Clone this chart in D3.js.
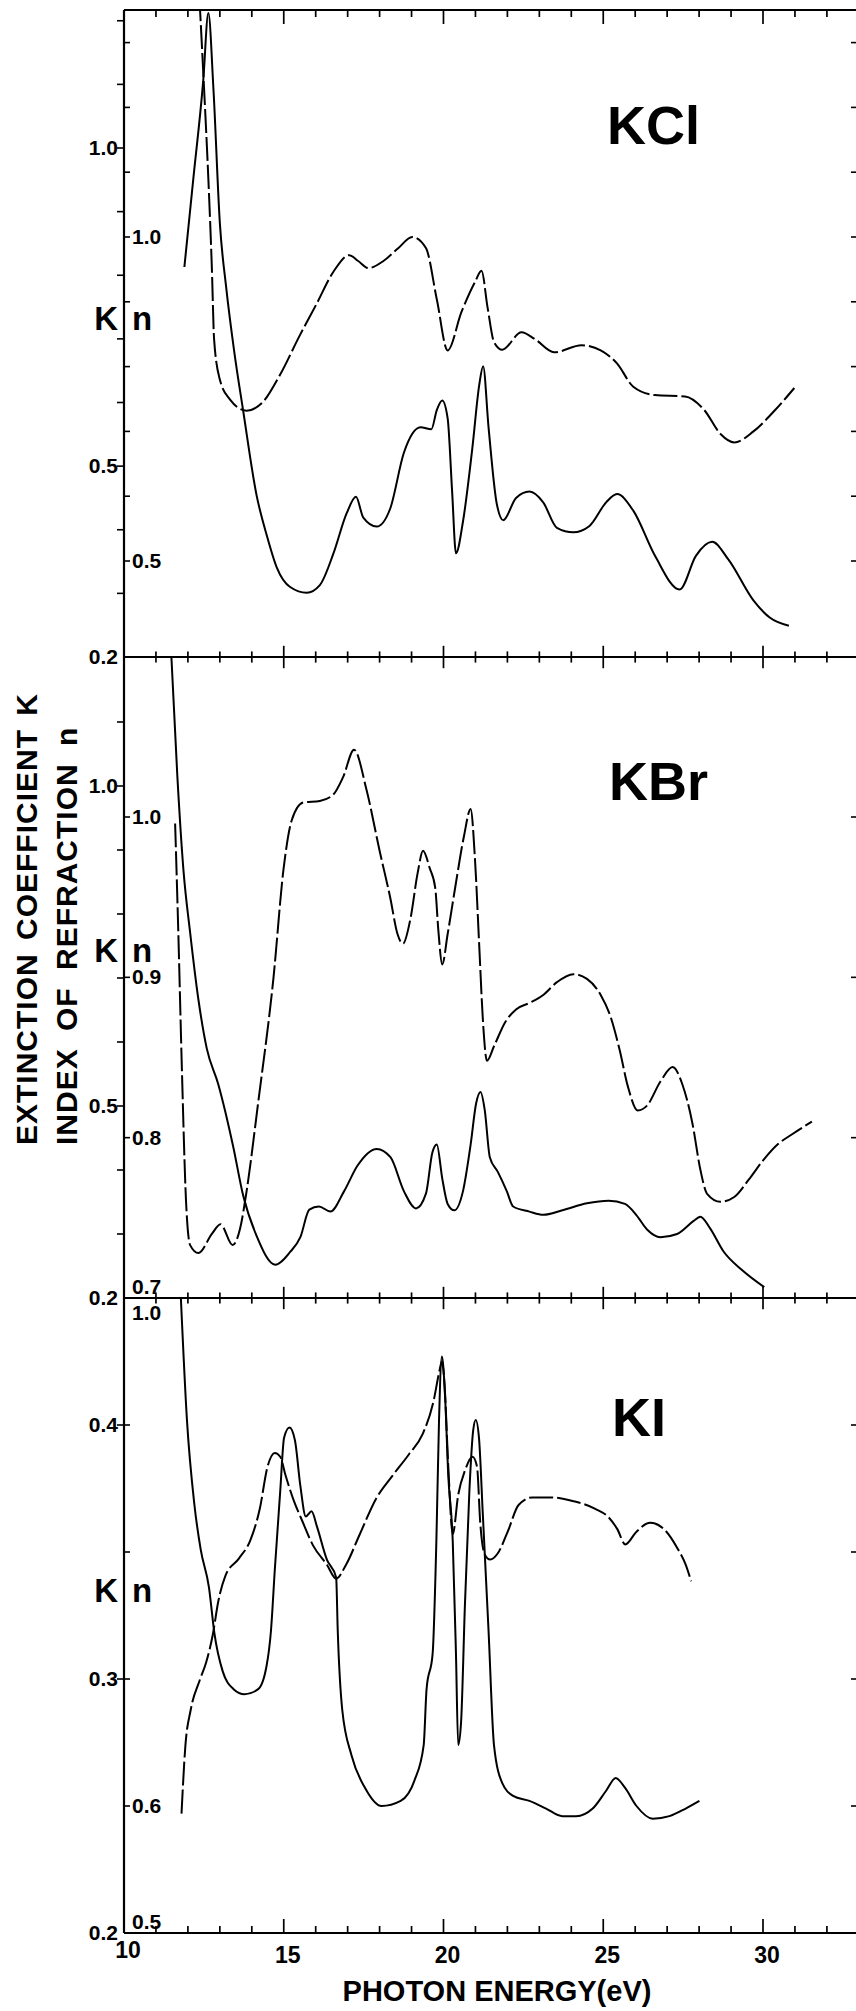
<!DOCTYPE html>
<html><head><meta charset="utf-8">
<script src="https://cdn.jsdelivr.net/npm/d3@7"></script>
<style>
body{margin:0;background:#fff}
svg{display:block}
text{fill:#000}
</style>
</head><body>
<script>
// ---------- DATA ----------
const panelNames = ["KCl", "KBr", "KI"];
const energyMajorTicks = [10, 15, 20, 25, 30];
const energyMinorTicks = [11, 12, 13, 14, 16, 17, 18, 19, 21, 22, 23, 24, 26, 27, 28, 29, 31, 32, 33];

// KCl  [photon energy eV, value]
const kclK = [[11.89,0.813],[12.17,0.952],[12.48,1.106],[12.64,1.212],[12.80,1.092],[13.00,0.882],[13.20,0.780],[13.45,0.680],[13.73,0.587],[14.15,0.454],[14.47,0.391],[14.78,0.341],[15.20,0.310],[15.72,0.301],[16.13,0.313],[16.55,0.362],[16.97,0.426],[17.26,0.452],[17.49,0.419],[17.91,0.405],[18.33,0.433],[18.76,0.521],[19.28,0.561],[19.62,0.558],[19.79,0.588],[19.96,0.603],[20.13,0.575],[20.27,0.460],[20.39,0.363],[20.61,0.413],[20.90,0.527],[21.12,0.628],[21.24,0.657],[21.41,0.561],[21.67,0.440],[21.87,0.415],[22.27,0.450],[22.69,0.460],[23.12,0.443],[23.55,0.403],[24.06,0.396],[24.57,0.406],[25.09,0.443],[25.43,0.456],[25.94,0.430],[26.62,0.359],[27.39,0.306],[27.90,0.359],[28.41,0.381],[28.92,0.353],[29.70,0.289],[30.21,0.262],[30.81,0.249]];
const kclN = [[12.36,1.37],[12.50,1.235],[12.64,1.090],[12.75,0.952],[12.82,0.842],[13.00,0.780],[13.32,0.749],[13.84,0.732],[14.36,0.746],[14.88,0.787],[15.51,0.849],[16.03,0.897],[16.55,0.946],[17.05,0.972],[17.33,0.963],[17.65,0.952],[18.12,0.963],[18.59,0.983],[19.02,1.000],[19.45,0.983],[19.79,0.904],[20.13,0.825],[20.56,0.884],[20.99,0.931],[21.19,0.948],[21.38,0.891],[21.58,0.838],[21.84,0.826],[22.44,0.853],[22.87,0.842],[23.46,0.822],[24.32,0.833],[24.92,0.825],[25.43,0.805],[25.94,0.769],[26.62,0.756],[27.56,0.754],[28.16,0.733],[28.67,0.696],[29.10,0.683],[29.70,0.700],[30.38,0.733],[30.98,0.767]];

// KBr
const kbrK = [[11.47,1.215],[11.67,1.015],[11.86,0.869],[12.07,0.771],[12.33,0.666],[12.59,0.590],[12.95,0.534],[13.42,0.436],[13.73,0.360],[14.15,0.297],[14.73,0.252],[15.20,0.272],[15.52,0.295],[15.80,0.338],[16.10,0.343],[16.46,0.335],[16.89,0.367],[17.31,0.407],[17.91,0.433],[18.34,0.420],[18.76,0.367],[19.14,0.340],[19.45,0.363],[19.65,0.427],[19.79,0.440],[19.96,0.387],[20.13,0.347],[20.34,0.337],[20.61,0.367],[20.85,0.440],[21.02,0.504],[21.16,0.522],[21.29,0.494],[21.45,0.420],[21.70,0.397],[21.98,0.367],[22.18,0.343],[22.69,0.335],[23.12,0.330],[23.72,0.337],[24.49,0.348],[25.17,0.352],[25.68,0.347],[26.03,0.330],[26.37,0.307],[26.79,0.295],[27.31,0.300],[27.82,0.320],[28.04,0.327],[28.33,0.310],[28.76,0.273],[29.36,0.243],[30.04,0.217]];
const kbrN = [[11.60,0.996],[11.70,0.928],[11.81,0.844],[11.94,0.761],[12.07,0.733],[12.33,0.728],[12.75,0.740],[13.02,0.746],[13.40,0.733],[13.63,0.743],[13.84,0.767],[14.20,0.822],[14.68,0.900],[14.99,0.967],[15.25,0.998],[15.61,1.009],[16.13,1.010],[16.55,1.014],[16.86,1.025],[17.20,1.042],[17.59,1.017],[18.01,0.978],[18.33,0.950],[18.56,0.927],[18.73,0.921],[18.97,0.937],[19.19,0.965],[19.36,0.979],[19.57,0.968],[19.74,0.956],[19.84,0.929],[19.96,0.908],[20.13,0.927],[20.39,0.959],[20.64,0.988],[20.85,1.005],[20.99,0.972],[21.12,0.919],[21.24,0.871],[21.36,0.848],[21.58,0.857],[21.93,0.872],[22.27,0.880],[22.69,0.884],[23.12,0.889],[23.55,0.897],[24.06,0.902],[24.49,0.899],[24.92,0.889],[25.22,0.876],[25.51,0.855],[25.77,0.832],[26.08,0.817],[26.37,0.820],[26.79,0.835],[27.17,0.844],[27.48,0.833],[27.79,0.809],[28.04,0.780],[28.25,0.765],[28.67,0.760],[29.10,0.763],[29.56,0.774],[30.01,0.786],[30.47,0.796],[30.90,0.802],[31.53,0.810]];

// KI
const kiK = [[11.78,0.450],[11.97,0.402],[12.20,0.369],[12.40,0.351],[12.66,0.336],[12.83,0.318],[13.09,0.303],[13.43,0.296],[13.77,0.294],[14.20,0.296],[14.46,0.305],[14.60,0.319],[14.72,0.343],[14.89,0.374],[15.01,0.395],[15.18,0.399],[15.35,0.394],[15.52,0.376],[15.69,0.364],[15.87,0.366],[16.04,0.360],[16.35,0.347],[16.64,0.340],[16.69,0.319],[16.83,0.288],[17.12,0.270],[17.55,0.257],[18.06,0.250],[18.66,0.252],[19.09,0.260],[19.38,0.274],[19.47,0.296],[19.66,0.310],[19.78,0.356],[19.86,0.402],[19.95,0.427],[20.05,0.411],[20.15,0.380],[20.29,0.354],[20.39,0.310],[20.46,0.274],[20.55,0.283],[20.67,0.329],[20.81,0.374],[20.93,0.398],[21.01,0.402],[21.11,0.395],[21.23,0.365],[21.41,0.319],[21.58,0.274],[21.84,0.259],[22.18,0.254],[22.69,0.252],[23.21,0.249],[23.72,0.246],[24.15,0.246],[24.67,0.249],[25.09,0.256],[25.39,0.261],[25.69,0.257],[26.04,0.250],[26.55,0.245],[27.07,0.246],[27.58,0.249],[28.01,0.252]];
const kiN = [[11.80,0.594],[11.92,0.647],[12.09,0.676],[12.37,0.699],[12.57,0.713],[12.78,0.735],[12.95,0.761],[13.17,0.781],[13.60,0.795],[13.95,0.809],[14.25,0.834],[14.49,0.867],[14.72,0.878],[14.89,0.875],[15.06,0.860],[15.32,0.840],[15.57,0.825],[15.92,0.805],[16.35,0.790],[16.64,0.779],[16.95,0.790],[17.38,0.814],[17.89,0.842],[18.40,0.860],[18.92,0.877],[19.35,0.893],[19.69,0.919],[19.86,0.941],[19.95,0.950],[20.03,0.933],[20.15,0.867],[20.29,0.814],[20.46,0.845],[20.67,0.864],[20.91,0.875],[21.05,0.867],[21.15,0.823],[21.29,0.798],[21.46,0.794],[21.70,0.799],[22.01,0.816],[22.35,0.837],[22.78,0.843],[23.38,0.843],[24.07,0.840],[24.75,0.834],[25.18,0.827],[25.44,0.818],[25.69,0.806],[26.04,0.816],[26.47,0.823],[26.90,0.818],[27.32,0.803],[27.58,0.790],[27.75,0.777]];

// axis tick values
const kclKTicks = [0.3,0.4,0.5,0.6,0.7,0.8,0.9,1.0,1.1,1.2];
const kclNTicks = [0.5,0.6,0.7,0.8,0.9,1.0,1.1,1.2,1.3];
const kclKLabels = [0.2,0.5,1.0];
const kclNLabels = [0.5,1.0];
const kbrKTicks = [0.3,0.4,0.5,0.6,0.7,0.8,0.9,1.0,1.1];
const kbrNTicks = [0.8,0.9,1.0];
const kbrKLabels = [0.2,0.5,1.0];
const kbrNLabels = [0.8,0.9,1.0];
const kiKTicks = [0.3,0.4];
const kiNTicks = [0.6,0.7,0.8,0.9];
const kiKLabels = [0.2,0.3,0.4];
const kiNLabels = [0.6];

// ---------- LAYOUT ----------
const W = 856, H = 2011;
const X0 = 124, XR = 858;
const FONT = "'Liberation Sans Narrow','Liberation Sans',Arial,sans-serif";
const FONTW = "'Liberation Sans',Arial,sans-serif";
const fmt = d3.format(".1f");

const svg = d3.select("body").append("svg").attr("width", W).attr("height", H);
svg.append("rect").attr("width", W).attr("height", H).attr("fill", "#fff");

const x = d3.scaleLinear().domain([10, 30]).range([X0, 763]);

const panels = [
  {name: panelNames[0], top: 10, bottom: 657,
   k: d3.scaleLinear().domain([0.2, 1.0]).range([657, 148]),
   n: d3.scaleLinear().domain([0.5, 1.0]).range([561, 237]),
   kData: kclK, nData: kclN, kTicks: kclKTicks, nTicks: kclNTicks,
   kLabels: kclKLabels, nLabels: kclNLabels, titleX: 607, titleY: 144, knY: 330},
  {name: panelNames[1], top: 657, bottom: 1298,
   k: d3.scaleLinear().domain([0.2, 1.0]).range([1298, 786]),
   n: d3.scaleLinear().domain([0.7, 1.0]).range([1298, 817]),
   kData: kbrK, nData: kbrN, kTicks: kbrKTicks, nTicks: kbrNTicks,
   kLabels: kbrKLabels, nLabels: kbrNLabels, titleX: 609, titleY: 800, knY: 962},
  {name: panelNames[2], top: 1298, bottom: 1933,
   k: d3.scaleLinear().domain([0.2, 0.4]).range([1933, 1425]),
   n: d3.scaleLinear().domain([0.5, 1.0]).range([1933, 1298]),
   kData: kiK, nData: kiN, kTicks: kiKTicks, nTicks: kiNTicks,
   kLabels: kiKLabels, nLabels: kiNLabels, titleX: 612, titleY: 1436, knY: 1602}
];

const defs = svg.append("defs");

panels.forEach((p, i) => {
  const g = svg.append("g");
  defs.append("clipPath").attr("id", "clip" + i)
    .append("rect").attr("x", X0).attr("y", p.top).attr("width", XR - X0).attr("height", p.bottom - p.top);

  const lineK = d3.line().x(d => x(d[0])).y(d => p.k(d[1])).curve(d3.curveMonotoneX);
  const lineN = d3.line().x(d => x(d[0])).y(d => p.n(d[1])).curve(d3.curveMonotoneX);
  const cg = g.append("g").attr("clip-path", `url(#clip${i})`);
  cg.append("path").attr("d", lineK(p.kData)).attr("fill", "none")
    .attr("stroke", "#000").attr("stroke-width", 2).attr("stroke-linejoin", "round");
  cg.append("path").attr("d", lineN(p.nData)).attr("fill", "none")
    .attr("stroke", "#000").attr("stroke-width", 2).attr("stroke-dasharray", "24,4")
    .attr("stroke-linejoin", "round");

  g.selectAll(".kt").data(p.kTicks).enter().append("line")
    .attr("x1", X0 - 7).attr("x2", X0).attr("y1", d => p.k(d)).attr("y2", d => p.k(d))
    .attr("stroke", "#000").attr("stroke-width", 1.6);
  g.selectAll(".nt").data(p.nTicks).enter().append("line")
    .attr("x1", X0).attr("x2", X0 + 6).attr("y1", d => p.n(d)).attr("y2", d => p.n(d))
    .attr("stroke", "#000").attr("stroke-width", 1.6);
  g.selectAll(".rt").data(p.nTicks).enter().append("line")
    .attr("x1", XR - 7).attr("x2", XR).attr("y1", d => p.n(d)).attr("y2", d => p.n(d))
    .attr("stroke", "#000").attr("stroke-width", 1.6);

  g.selectAll(".kl").data(p.kLabels).enter().append("text")
    .attr("x", X0 - 6).attr("y", d => p.k(d) + 7)
    .attr("text-anchor", "end").attr("font-family", FONT).attr("font-weight", "bold").attr("font-size", 21)
    .text(d => fmt(d));
  g.selectAll(".nl").data(p.nLabels).enter().append("text")
    .attr("x", X0 + 8).attr("y", d => p.n(d) + 7)
    .attr("font-family", FONT).attr("font-weight", "bold").attr("font-size", 21)
    .text(d => fmt(d));

  g.append("text").attr("x", X0 - 6).attr("y", p.knY).attr("text-anchor", "end")
    .attr("font-family", FONT).attr("font-weight", "bold").attr("font-size", 33).text("K");
  g.append("text").attr("x", X0 + 8).attr("y", p.knY)
    .attr("font-family", FONT).attr("font-weight", "bold").attr("font-size", 33).text("n");

  g.append("text").attr("x", p.titleX).attr("y", p.titleY)
    .attr("font-family", FONTW).attr("font-weight", "bold").attr("font-size", 54)
    .text(p.name);
});

// n labels sitting at panel edges
svg.append("text").attr("x", X0 + 8).attr("y", panels[1].n(0.7) - 4)
  .attr("font-family", FONT).attr("font-weight", "bold").attr("font-size", 21).text(fmt(0.7));
svg.append("text").attr("x", X0 + 8).attr("y", panels[2].n(1.0) + 22)
  .attr("font-family", FONT).attr("font-weight", "bold").attr("font-size", 21).text(fmt(1.0));
svg.append("text").attr("x", X0 + 8).attr("y", panels[2].n(0.5) - 4)
  .attr("font-family", FONT).attr("font-weight", "bold").attr("font-size", 21).text(fmt(0.5));

// frame
const ax = svg.append("g").attr("stroke", "#000");
ax.append("line").attr("x1", X0).attr("x2", X0).attr("y1", 10).attr("y2", 1933).attr("stroke-width", 2.2);
[10, 657, 1298, 1933].forEach((yy, j) => {
  ax.append("line").attr("x1", X0).attr("x2", XR).attr("y1", yy).attr("y2", yy).attr("stroke-width", 2);
  const mode = j === 0 ? "down" : (j === 3 ? "up" : "both");
  const tick = (e, len) => {
    let y1, y2;
    if (mode === "down") { y1 = yy; y2 = yy + len; }
    else if (mode === "up") { y1 = yy - len; y2 = yy; }
    else { y1 = yy - len * 0.8; y2 = yy + len * 0.8; }
    ax.append("line").attr("x1", x(e)).attr("x2", x(e)).attr("y1", y1).attr("y2", y2).attr("stroke-width", 1.7);
  };
  energyMinorTicks.forEach(e => tick(e, 7));
  energyMajorTicks.filter(e => e > 10).forEach(e => tick(e, 14));
});

// x tick labels
svg.selectAll(".xl").data(energyMajorTicks).enter().append("text")
  .attr("x", d => x(d) + 4).attr("y", d => d === 10 ? 1958 : 1963)
  .attr("text-anchor", "middle").attr("font-family", FONT).attr("font-weight", "bold").attr("font-size", 23)
  .text(d => d);

// x title
svg.append("text").attr("x", 497).attr("y", 2001).attr("text-anchor", "middle")
  .attr("font-family", FONTW).attr("font-weight", "bold").attr("font-size", 29).text("PHOTON ENERGY(eV)");

// y titles
svg.append("text").attr("transform", "translate(37,1145) rotate(-90)")
  .attr("font-family", FONTW).attr("font-weight", "bold").attr("font-size", 30)
  .attr("letter-spacing", 1).attr("word-spacing", 4)
  .text("EXTINCTION COEFFICIENT K");
svg.append("text").attr("transform", "translate(77,1145) rotate(-90)")
  .attr("font-family", FONTW).attr("font-weight", "bold").attr("font-size", 30)
  .attr("letter-spacing", 1).attr("word-spacing", 8)
  .text("INDEX OF REFRACTION n");
</script>
</body></html>
